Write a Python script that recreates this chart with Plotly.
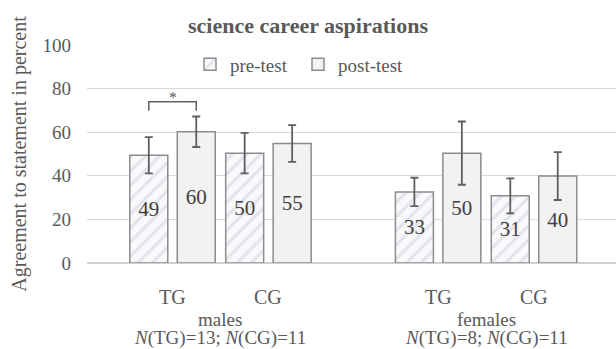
import plotly.graph_objects as go

# ---- data ----
groups = ["males", "females"]
group_n = ["<i>N</i>(TG)=13; <i>N</i>(CG)=11", "<i>N</i>(TG)=8; <i>N</i>(CG)=11"]
conditions = ["TG", "CG", "TG", "CG"]
series_names = ["pre-test", "post-test"]
pre_values = [49.4, 50.4, 32.6, 30.8]
post_values = [60.2, 54.8, 50.4, 39.9]
pre_err = [8.3, 9.3, 6.5, 8.0]
post_err = [7.0, 8.4, 14.5, 11.0]
y_ticks = [0, 20, 40, 60, 80, 100]
sig_label = "*"

# ---- layout constants ----
cat_pos = [0, 1, 2.77, 3.77]
bargap = 0.01
bargroupgap = 0.2
FONT = "Liberation Serif"
TXT = "#595959"
EDGE = "#8c8c8c"

fig = go.Figure()
fig.add_trace(go.Bar(
    x=cat_pos, y=pre_values, name=series_names[0],
    marker=dict(color="#ffffff", line=dict(color=EDGE, width=1.5),
                pattern=dict(shape="/", fgcolor="#c9d0de", bgcolor="#f9f9fb", size=10, solidity=0.3)),
    error_y=dict(type="data", array=pre_err, color="#5f5f5f", thickness=1.8, width=4),
    text=pre_values, texttemplate="%{y:.0f}", textposition="inside", insidetextanchor="middle",
    textfont=dict(family=FONT, size=21, color="#404040"), textangle=0,
))
fig.add_trace(go.Bar(
    x=cat_pos, y=post_values, name=series_names[1],
    marker=dict(color="#f2f2f2", line=dict(color=EDGE, width=1.5)),
    error_y=dict(type="data", array=post_err, color="#5f5f5f", thickness=1.8, width=4),
    text=post_values, texttemplate="%{y:.0f}", textposition="inside", insidetextanchor="middle",
    textfont=dict(family=FONT, size=21, color="#404040"), textangle=0,
))

# significance bracket between pre and post of the first category
slot = (1 - bargap) / 2
x_pre = cat_pos[0] - slot / 2
x_post = cat_pos[0] + slot / 2
fig.add_shape(type="path", xref="x", yref="y",
              path=f"M {x_pre},69.8 L {x_pre},74 L {x_post},74 L {x_post},69.8",
              line=dict(color="#5f5f5f", width=1.5))
fig.add_annotation(x=cat_pos[0], y=74, text=sig_label, showarrow=False, yanchor="bottom",
                   font=dict(family=FONT, size=16, color=TXT), yshift=-6)

# category labels
for xp, c in zip(cat_pos, conditions):
    fig.add_annotation(x=xp, y=0, xref="x", yref="paper", text=c, showarrow=False,
                       yanchor="middle", yshift=-33.5, font=dict(family=FONT, size=20, color=TXT))
for i, (g, n) in enumerate(zip(groups, group_n)):
    xc = (cat_pos[2 * i] + cat_pos[2 * i + 1]) / 2
    fig.add_annotation(x=xc, y=0, xref="x", yref="paper", text=g, showarrow=False,
                       yanchor="middle", yshift=-56, font=dict(family=FONT, size=19, color=TXT))
    fig.add_annotation(x=xc, y=0, xref="x", yref="paper", text=n, showarrow=False,
                       yanchor="middle", yshift=-75, font=dict(family=FONT, size=19, color=TXT))

fig.update_layout(
    width=616, height=349,
    margin=dict(l=87, r=0, t=45, b=86, autoexpand=False),
    paper_bgcolor="white", plot_bgcolor="white",
    font=dict(family=FONT, size=19, color=TXT),
    barmode="group", bargap=bargap, bargroupgap=bargroupgap,
    title=dict(text="<b>science career aspirations</b>", x=0.5, xref="container", xanchor="center",
               y=1 - 25 / 349, yref="container", yanchor="middle", font=dict(family=FONT, size=22, color=TXT)),
    legend=dict(orientation="h", x=(190 - 87) / 529, xref="paper", y=(263.5 - 65) / 218, yref="paper",
                xanchor="left", yanchor="middle", entrywidth=63, entrywidthmode="pixels",
                font=dict(family=FONT, size=19, color=TXT), itemwidth=30,
                bgcolor="rgba(0,0,0,0)", traceorder="normal"),
    xaxis=dict(range=[-0.892, 4.625], showticklabels=False, showgrid=False, zeroline=False,
               showline=False, ticks=""),
    yaxis=dict(range=[0, 100], tickvals=y_ticks, showgrid=True, gridcolor="#d9d9d9", gridwidth=1,
               zeroline=True, zerolinecolor="#cfcfcf", zerolinewidth=1.5, showline=False,
               ticks="", ticklabelstandoff=15, tickfont=dict(family=FONT, size=19, color=TXT),
               title=dict(text="Agreement to statement in percent", standoff=10,
                          font=dict(family=FONT, size=20, color=TXT))),
    showlegend=True,
)

fig.write_html("out.html", config={"displayModeBar": False},
               post_script="document.body.style.margin='0';")
